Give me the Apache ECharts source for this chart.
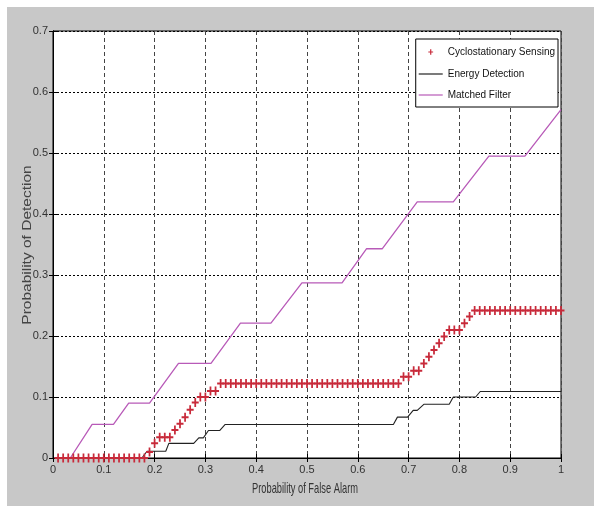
<!DOCTYPE html>
<html>
<head>
<meta charset="utf-8">
<script src="https://cdn.jsdelivr.net/npm/echarts@6/dist/echarts.min.js"></script>
<style>
  html, body { margin: 0; padding: 0; background: #fff; }
  #main { width: 594px; height: 506px; }
</style>
</head>
<body>
<div id="main"></div>
<script>
// probability of false alarm samples (markers)
var pfa = [
  0.01, 0.02, 0.03, 0.04, 0.05, 0.06, 0.07, 0.08, 0.09, 0.10,
  0.11, 0.12, 0.13, 0.14, 0.15, 0.16, 0.17, 0.18, 0.19, 0.20,
  0.21, 0.22, 0.23, 0.24, 0.25, 0.26, 0.27, 0.28, 0.29, 0.30,
  0.31, 0.32, 0.33, 0.34, 0.35, 0.36, 0.37, 0.38, 0.39, 0.40,
  0.41, 0.42, 0.43, 0.44, 0.45, 0.46, 0.47, 0.48, 0.49, 0.50,
  0.51, 0.52, 0.53, 0.54, 0.55, 0.56, 0.57, 0.58, 0.59, 0.60,
  0.61, 0.62, 0.63, 0.64, 0.65, 0.66, 0.67, 0.68, 0.69, 0.70,
  0.71, 0.72, 0.73, 0.74, 0.75, 0.76, 0.77, 0.78, 0.79, 0.80,
  0.81, 0.82, 0.83, 0.84, 0.85, 0.86, 0.87, 0.88, 0.89, 0.90,
  0.91, 0.92, 0.93, 0.94, 0.95, 0.96, 0.97, 0.98, 0.99, 1.00
];

// cyclostationary sensing Pd at each pfa
var cycloPd = [
  0, 0, 0, 0, 0, 0, 0, 0, 0, 0,
  0, 0, 0, 0, 0, 0, 0, 0, 0.010, 0.024,
  0.034, 0.034, 0.034, 0.046, 0.056, 0.067, 0.079, 0.091, 0.100, 0.100,
  0.110, 0.110, 0.122, 0.122, 0.122, 0.122, 0.122, 0.122, 0.122, 0.122,
  0.122, 0.122, 0.122, 0.122, 0.122, 0.122, 0.122, 0.122, 0.122, 0.122,
  0.122, 0.122, 0.122, 0.122, 0.122, 0.122, 0.122, 0.122, 0.122, 0.122,
  0.122, 0.122, 0.122, 0.122, 0.122, 0.122, 0.122, 0.122, 0.133, 0.133,
  0.143, 0.143, 0.155, 0.166, 0.177, 0.188, 0.199, 0.210, 0.210, 0.210,
  0.221, 0.232, 0.242, 0.242, 0.242, 0.242, 0.242, 0.242, 0.242, 0.242,
  0.242, 0.242, 0.242, 0.242, 0.242, 0.242, 0.242, 0.242, 0.242, 0.242
];

// energy detection curve corners
var energyPfa = [0.01, 0.175, 0.185, 0.222, 0.228, 0.277, 0.287, 0.296, 0.306, 0.328, 0.339,
  0.670, 0.678, 0.698, 0.709, 0.717, 0.730, 0.780, 0.788, 0.832, 0.841, 1.0];
var energyPd = [0, 0, 0.011, 0.011, 0.024, 0.024, 0.033, 0.033, 0.045, 0.045, 0.055,
  0.055, 0.067, 0.067, 0.078, 0.078, 0.088, 0.088, 0.100, 0.100, 0.109, 0.109];

// matched filter curve corners
var matchedPfa = [0.01, 0.034, 0.077, 0.119, 0.149, 0.190, 0.247, 0.311, 0.369, 0.429,
  0.490, 0.569, 0.617, 0.648, 0.717, 0.788, 0.858, 0.929, 1.0];
var matchedPd = [0, 0, 0.055, 0.055, 0.090, 0.090, 0.155, 0.155, 0.221, 0.221,
  0.287, 0.287, 0.343, 0.343, 0.420, 0.420, 0.495, 0.495, 0.571];

var seriesNames = ['Cyclostationary Sensing', 'Energy Detection', 'Matched Filter'];

function zip(xs, ys) {
  return xs.map(function (x, i) { return [x, ys[i]]; });
}

var font = 'Liberation Sans';
var plusMark = 'path://M3,0H5V3.5H8V5.5H5V9H3V5.5H0V3.5H3Z';
// same plus, with empty corner points so the legend draws it small
var plusSmall = 'path://M-6,-5.5L-6,-5.5ZM14,14.5L14,14.5ZM3,0H5V3.5H8V5.5H5V9H3V5.5H0V3.5H3Z';
var lineIcon = 'path://M0,0H60V3H0Z';

var chart = echarts.init(document.getElementById('main'));

var option = {
  backgroundColor: '#c8c8c8',
  animation: false,
  grid: {
    left: 53, right: 33, top: 31, bottom: 48,
    show: true, backgroundColor: '#fff', borderColor: '#000', borderWidth: 1
  },
  legend: {
    orient: 'vertical',
    right: 36, top: 39,
    padding: [7, 3, 7, 3],
    itemWidth: 24, itemHeight: 12, itemGap: 11, itemTextGap: 5,
    backgroundColor: '#fff', borderColor: '#000', borderWidth: 1,
    textStyle: { fontFamily: font, fontSize: 10, color: '#111' },
    data: [
      { name: seriesNames[0], icon: plusSmall },
      { name: seriesNames[1], icon: lineIcon },
      { name: seriesNames[2], icon: lineIcon }
    ]
  },
  xAxis: [{
    type: 'value', min: 0, max: 1, interval: 0.1,
    axisLine: { lineStyle: { color: '#000' } },
    axisTick: { inside: true, length: 4, lineStyle: { color: '#000' } },
    axisLabel: { margin: 6, fontFamily: font, fontSize: 11, color: '#333' },
    splitLine: { show: true, lineStyle: { color: '#444', type: [4, 3], width: 1 } }
  }, {
    type: 'value', min: 0, max: 1, interval: 0.1, position: 'top',
    axisLine: { lineStyle: { color: '#000' } },
    axisTick: { inside: true, length: 4, lineStyle: { color: '#000' } },
    axisLabel: { show: false }, splitLine: { show: false }
  }],
  yAxis: [{
    type: 'value', min: 0, max: 0.7, interval: 0.1,
    axisLine: { show: true, lineStyle: { color: '#000' } },
    axisTick: { show: true, inside: true, length: 4, lineStyle: { color: '#000' } },
    axisLabel: { margin: 5, fontFamily: font, fontSize: 11, color: '#333' },
    splitLine: { show: true, lineStyle: { color: '#000', type: [2, 2], width: 1 } }
  }, {
    type: 'value', min: 0, max: 0.7, interval: 0.1, position: 'right',
    axisLine: { show: true, lineStyle: { color: '#000' } },
    axisTick: { show: true, inside: true, length: 4, lineStyle: { color: '#000' } },
    axisLabel: { show: false }, splitLine: { show: false }
  }],
  series: [
    {
      name: 'Matched Filter', type: 'line', symbol: 'none',
      lineStyle: { color: '#b85ab8', width: 1.3 }, itemStyle: { color: '#b85ab8' },
      data: zip(matchedPfa, matchedPd), z: 3
    },
    {
      name: 'Energy Detection', type: 'line', symbol: 'none',
      lineStyle: { color: '#222', width: 1.1 }, itemStyle: { color: '#222' },
      data: zip(energyPfa, energyPd), z: 3
    },
    {
      name: 'Cyclostationary Sensing', type: 'scatter',
      symbol: plusMark, symbolSize: [7, 9],
      itemStyle: { color: '#c82a3a', opacity: 1 },
      data: zip(pfa, cycloPd), z: 4
    }
  ],
  graphic: [
    { type: 'rect', left: 0, top: 0, shape: { width: 594, height: 7 }, style: { fill: '#fff' } },
    { type: 'rect', left: 0, top: 0, shape: { width: 7, height: 506 }, style: { fill: '#fff' } },
    {
      type: 'text', x: 305, y: 489, scaleX: 0.62,
      style: { text: 'Probability of False Alarm', font: '15px Liberation Sans', fill: '#333',
        textAlign: 'center', textVerticalAlign: 'middle' }
    },
    {
      type: 'text', x: 28, y: 245, rotation: Math.PI / 2, scaleY: 0.8,
      style: { text: 'Probability of Detection', font: '15.5px Liberation Sans', fill: '#444',
        textAlign: 'center', textVerticalAlign: 'middle' }
    }
  ]
};

chart.setOption(option);
</script>
</body>
</html>
